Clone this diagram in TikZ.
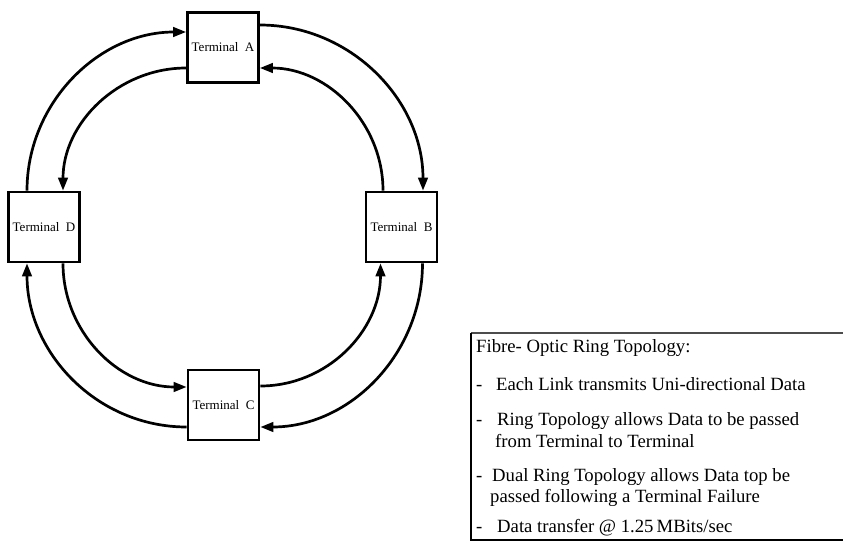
\documentclass[tikz,border=0pt]{standalone}
\usepackage{fontspec}
\setmainfont{Liberation Serif}
\usetikzlibrary{arrows.meta}
\tikzset{
  terminal/.style={draw, line width=2.7pt, minimum width=71pt, minimum height=70pt, inner sep=0pt, font=\fontsize{13}{15}\selectfont},
  link/.style={line width=2.7pt, -{Triangle[length=13pt,width=9.5pt]}},
  infobox/.style={anchor=north west, minimum width=400pt, minimum height=207pt, inner sep=0pt, outer sep=0pt},
  boxedge/.style={line width=1.6pt},
  infotext/.style={anchor=base west, inner sep=0pt, font=\fontsize{18.7}{22}\selectfont}
}
\begin{document}
\begin{tikzpicture}[x=1pt,y=-1pt]
\useasboundingbox (0,0) rectangle (843,543);
% terminals
\node[terminal] (A) at (223,47.5) {Terminal\ \ A};
\node[terminal] (D) at (44,227) {Terminal\ \ D};
\node[terminal] (B) at (401.5,227) {Terminal\ \ B};
\node[terminal] (C) at (223.5,405) {Terminal\ \ C};
% outer ring (clockwise)
\draw[link] ([xshift=-17pt]D.north) to[out=90,in=180] ([yshift=15.5pt]A.west);
\draw[link] ([yshift=22.5pt]A.east) to[out=0,in=90] ([xshift=21.5pt]B.north);
\draw[link] ([xshift=21pt]B.south) to[out=-90,in=0] ([yshift=-22pt]C.east);
\draw[link] ([yshift=-22pt]C.west) to[out=180,in=-90] ([xshift=-17pt]D.south);
% inner ring (counter-clockwise)
\draw[link] ([yshift=-20.5pt]A.west) to[out=180,in=90] ([xshift=19pt]D.north);
\draw[link] ([xshift=-18.5pt]B.north) to[out=90,in=0] ([yshift=-20.5pt]A.east);
\draw[link] ([yshift=19pt]C.east) to[out=0,in=-90] ([xshift=-21pt]B.south);
\draw[link] ([xshift=19pt]D.south) to[out=-90,in=180] ([yshift=18pt]C.west);
% info box
\node[infobox] (info) at (471,333) {};
\draw[boxedge, black!70] (info.north west) -- (info.north east);
\draw[boxedge] (info.north west) -- (info.south west) -- (info.south east);
\node[infotext] (t1) at (476,352) {Fibre- Optic Ring Topology:};
\node[infotext] (d2) at (476,390) {-};
\node[infotext] (t2) at (496,390) {Each Link transmits Uni-directional Data};
\node[infotext] (d3) at (476,425) {-};
\node[infotext] (t3) at (497,425) {Ring Topology allows Data to be passed};
\node[infotext] (t4) at (495,447) {from Terminal to Terminal};
\node[infotext] (d5) at (476,481) {-};
\node[infotext] (t5) at (492,481) {Dual Ring Topology allows Data top be};
\node[infotext] (t6) at (490,502) {passed following a Terminal Failure};
\node[infotext] (d7) at (476,532) {-};
\node[infotext] (t7) at (497,532) {Data transfer @ 1.25\,MBits/sec};
\end{tikzpicture}
\end{document}
